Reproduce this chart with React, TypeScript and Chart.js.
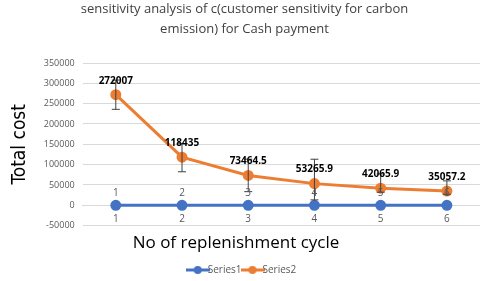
import React, { useEffect, useRef } from "react";
import { Chart, registerables } from "chart.js";

Chart.register(...registerables);

const categories = ["1", "2", "3", "4", "5", "6"];
const series1 = [1, 2, 3, 4, 5, 6];
const series2 = [272007, 118435, 73464.5, 53265.9, 42065.9, 35057.2];
const series2Labels = ["272007", "118435", "73464.5", "53265.9", "42065.9", "35057.2"];
const errPlus = [36000, 33000, 40000, 60000, 35000, 25000];
const errMinus = [36000, 36000, 40000, 40000, 10000, 8000];
const yMin = -50000;
const yMax = 350000;
const yStep = 50000;
const xTitle = "No of replenishment cycle";

const BLUE = "#4472C4";
const ORANGE = "#ED7D31";

function legendIcon(color: string) {
  const c = document.createElement("canvas");
  c.width = 24;
  c.height = 10;
  const g = c.getContext("2d")!;
  g.strokeStyle = color;
  g.lineWidth = 3;
  g.beginPath();
  g.moveTo(0, 5);
  g.lineTo(24, 5);
  g.stroke();
  g.fillStyle = color;
  g.beginPath();
  g.arc(12, 5, 4, 0, Math.PI * 2);
  g.fill();
  return c;
}

const noSidePadding = (s: any) => {
  s.paddingLeft = 0;
  s.paddingRight = 0;
};

const labelPlugin = {
  id: "labelsAndErrors",
  afterDatasetsDraw(chart: any) {
    const ctx = chart.ctx;
    const yScale = chart.scales.y;
    const meta2 = chart.getDatasetMeta(1);
    ctx.save();
    ctx.strokeStyle = "#404040";
    ctx.lineWidth = 1;
    meta2.data.forEach((pt: any, i: number) => {
      const yTop = yScale.getPixelForValue(series2[i] + errPlus[i]);
      const yBot = yScale.getPixelForValue(series2[i] - errMinus[i]);
      ctx.beginPath();
      ctx.moveTo(pt.x, yTop);
      ctx.lineTo(pt.x, yBot);
      ctx.moveTo(pt.x - 4, yTop);
      ctx.lineTo(pt.x + 4, yTop);
      ctx.moveTo(pt.x - 4, yBot);
      ctx.lineTo(pt.x + 4, yBot);
      ctx.stroke();
    });
    const meta1 = chart.getDatasetMeta(0);
    ctx.fillStyle = "#595959";
    ctx.font = "10px 'Open Sans', sans-serif";
    ctx.textAlign = "center";
    ctx.textBaseline = "bottom";
    meta1.data.forEach((pt: any, i: number) => {
      ctx.fillText(String(series1[i]), pt.x, pt.y - 7);
    });
    ctx.fillStyle = "#000000";
    ctx.font = "bold 10px 'Open Sans', sans-serif";
    meta2.data.forEach((pt: any, i: number) => {
      ctx.fillText(series2Labels[i], pt.x, pt.y - 9);
    });
    // x-axis title (Excel places it left of the plot centre)
    ctx.fillStyle = "#000000";
    ctx.font = "17px 'Open Sans', sans-serif";
    ctx.textBaseline = "middle";
    ctx.fillText(xTitle, 236, chart.chartArea.bottom + 18);
    ctx.restore();
  },
};

export default function App() {
  const ref = useRef<HTMLCanvasElement>(null);
  useEffect(() => {
    const chart = new Chart(ref.current!, {
      type: "line",
      data: {
        labels: categories,
        datasets: [
          {
            label: "Series1",
            data: series1,
            borderColor: BLUE,
            backgroundColor: BLUE,
            borderWidth: 3,
            pointRadius: 4,
            pointBackgroundColor: BLUE,
            pointBorderColor: BLUE,
          },
          {
            label: "Series2",
            data: series2,
            borderColor: ORANGE,
            backgroundColor: ORANGE,
            borderWidth: 3,
            pointRadius: 4,
            pointBackgroundColor: ORANGE,
            pointBorderColor: ORANGE,
          },
        ],
      },
      options: {
        animation: false,
        responsive: true,
        maintainAspectRatio: false,
        layout: { autoPadding: false, padding: { left: 9, right: 0, top: 0, bottom: -4 } },
        plugins: {
          title: {
            display: true,
            text: [
              "sensitivity analysis of c(customer sensitivity for carbon",
              "emission) for Cash payment",
            ],
            color: "#404040",
            font: { family: "'Open Sans', sans-serif", size: 13, weight: "normal", lineHeight: 1.5 },
            padding: { top: 0, bottom: 24 },
          },
          legend: {
            position: "bottom",
            labels: {
              usePointStyle: true,
              color: "#595959",
              font: { family: "'Open Sans', sans-serif", size: 10 },
              generateLabels: (chart: any) =>
                chart.data.datasets.map((ds: any, i: number) => ({
                  text: ds.label,
                  pointStyle: legendIcon(ds.borderColor),
                  fillStyle: ds.borderColor,
                  strokeStyle: ds.borderColor,
                  fontColor: "#595959",
                  datasetIndex: i,
                  hidden: false,
                })),
              padding: 6,
            },
          },
          tooltip: { enabled: false },
        },
        scales: {
          x: {
            type: "category",
            position: { y: 0 } as any,
            offset: true,
            afterFit: noSidePadding,
            grid: { display: false },
            border: { display: true, color: "#d9d9d9" },
            ticks: {
              color: "#595959",
              font: { family: "'Open Sans', sans-serif", size: 10 },
              padding: 0,
            },
          },
          x2: {
            type: "category",
            position: "bottom",
            offset: true,
            afterFit: noSidePadding,
            labels: categories,
            grid: { display: false },
            border: { display: false },
            ticks: { display: false },
            title: {
              display: true,
              text: " ",
              color: "#000000",
              font: { family: "'Open Sans', sans-serif", size: 17 },
              padding: { top: 5, bottom: 0 },
            },
          },
          y: {
            min: yMin,
            max: yMax,
            ticks: {
              stepSize: yStep,
              color: "#595959",
              font: { family: "'Open Sans', sans-serif", size: 9 },
              padding: 8,
              callback: (v: any) => String(v),
            },
            grid: { color: "#d9d9d9", drawTicks: false },
            border: { display: false },
            title: {
              display: true,
              text: "Total cost",
              color: "#000000",
              font: { family: "'Liberation Sans Narrow', 'DejaVu Sans Condensed', sans-serif", size: 19 },
              padding: { top: 0, bottom: 4 },
            },
          },
        },
      },
      plugins: [labelPlugin],
    });
    return () => chart.destroy();
  }, []);
  return (
    <div style={{ position: "fixed", left: 0, top: 0, width: 480, height: 281, background: "#fff" }}>
      <canvas ref={ref} />
    </div>
  );
}
